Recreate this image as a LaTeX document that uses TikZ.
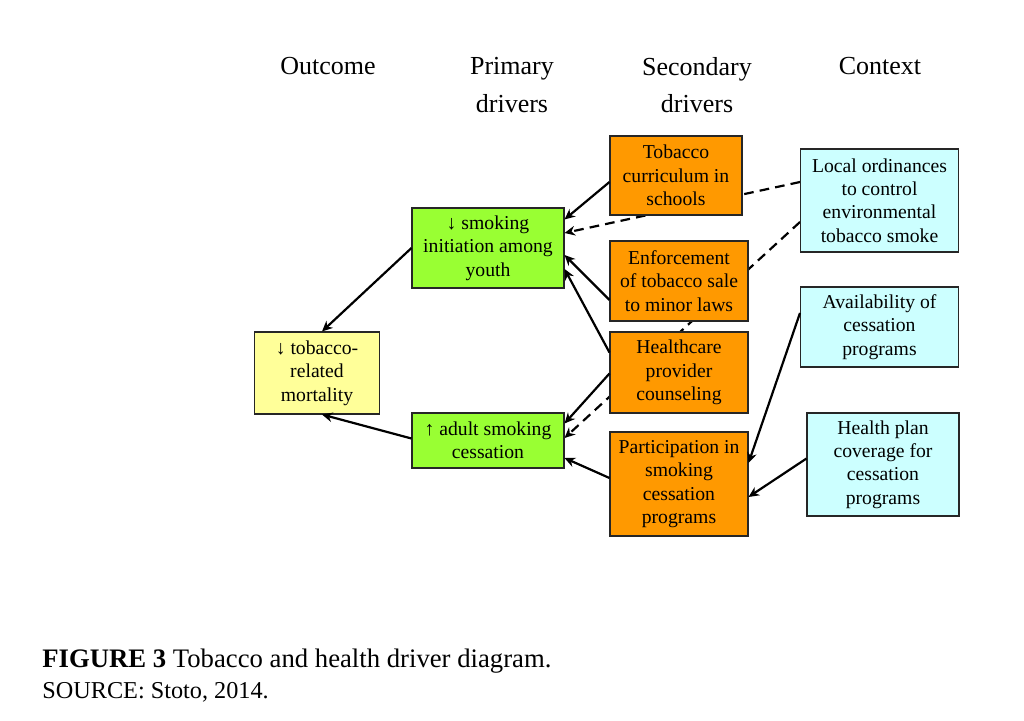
\documentclass[tikz,border=0pt]{standalone}
\usepackage{fontspec}
\setmainfont{Liberation Serif}
\usetikzlibrary{arrows.meta,calc}
\definecolor{Yc}{HTML}{FFFF99}
\definecolor{Gc}{HTML}{99FF33}
\definecolor{Oc}{HTML}{FF9900}
\definecolor{Cc}{HTML}{CCFFFF}
\pgfdeclarelayer{bg}
\pgfsetlayers{bg,main}
\tikzset{
  box/.style={draw=black!85, line width=0.6pt, inner sep=0pt, align=center, font=\fontsize{11.2}{13.3}\selectfont},
  outc/.style={box, fill=Yc},
  prim/.style={box, fill=Gc},
  sec/.style={box, fill=Oc},
  ctx/.style={box, fill=Cc},
  head/.style={inner sep=0pt, align=center, font=\fontsize{14.8}{21.5}\selectfont},
  link/.style={-{Stealth[length=6pt, width=5.5pt]}, line width=1.25pt},
  weak/.style={link, dash pattern=on 5.5pt off 3.5pt},
}

\begin{document}
\begin{tikzpicture}[x=0.02cm, y=-0.02cm]
  \useasboundingbox (0,0) rectangle (1024,720);
  \node[head] (hout) at (328,66) {Outcome};
  \node[head] (hpri) at (512,85) {Primary\\drivers};
  \node[head] (hsec) at (697,85) {Secondary\\drivers};
  \node[head] (hctx) at (880,66) {Context};

  \node[outc, minimum width=2.5cm, minimum height=1.64cm] (mort) at (317,373) {↓ tobacco-\\related\\mortality};
  \node[prim, minimum width=3.04cm, minimum height=1.6cm] (init) at (488,248) {↓ smoking\\initiation among\\youth};
  \node[prim, minimum width=3.04cm, minimum height=1.1cm] (adult) at (488,440.5) {↑ adult smoking\\cessation};
  \node[sec, minimum width=2.64cm, minimum height=1.58cm] (curr) at (676,175.5) {Tobacco\\curriculum in\\schools};
  \node[sec, minimum width=2.76cm, minimum height=1.6cm] (enf) at (679,281) {Enforcement\\of tobacco sale\\to minor laws};
  \node[sec, minimum width=2.76cm, minimum height=1.62cm] (hc) at (679,372.5) {Healthcare\\provider\\counseling};
  \node[sec, minimum width=2.76cm, minimum height=2.08cm] (part) at (679,484) {Participation in\\smoking\\cessation\\programs};
  \node[ctx, minimum width=3.16cm, minimum height=2.06cm] (local) at (879.5,200.5) {Local ordinances\\to control\\environmental\\tobacco smoke};
  \node[ctx, minimum width=3.16cm, minimum height=1.6cm] (avail) at (879.5,327) {Availability of\\cessation\\programs};
  \node[ctx, minimum width=3.04cm, minimum height=2.06cm] (plan) at (883,464.5) {Health plan\\coverage for\\cessation\\programs};

  \begin{pgfonlayer}{bg}
    \draw[weak] ($(local.west)+(0,-18.5)$) -- ($(init.east)+(0,-15)$);
    \draw[weak] ($(local.west)+(0,21.5)$) -- ($(adult.east)+(0,-2.5)$);
  \end{pgfonlayer}

  \draw[link] (init.west) -- ($(mort.north)+(5,0)$);
  \draw[link] ($(adult.west)+(0,-2)$) -- ($(mort.south)+(5,0)$);
  \draw[link] ($(curr.west)+(0,6.5)$) -- ($(init.north east)+(0,12)$);
  \draw[link] ($(enf.west)+(0,19)$) -- ($(init.east)+(0,7)$);
  \draw[link] ($(hc.west)+(0,-20)$) -- ($(init.east)+(0,21)$);
  \draw[link] ($(hc.west)+(0,1)$) -- ($(adult.east)+(0,-17)$);
  \draw[link] ($(part.west)+(0,-6)$) -- ($(adult.east)+(0,17.5)$);
  \draw[link] ($(avail.west)+(0,-14)$) -- ($(part.east)+(0,-21)$);
  \draw[link] ($(plan.west)+(0,-6)$) -- ($(part.east)+(0,13)$);

  \node[anchor=west, inner sep=0pt, align=left, font=\fontsize{13.8}{17.6}\selectfont] (cap) at (42,676)
    {{\fontsize{15.2}{17.6}\selectfont\textbf{FIGURE 3} Tobacco and health driver diagram.}\\SOURCE: Stoto, 2014.};
\end{tikzpicture}
\end{document}
